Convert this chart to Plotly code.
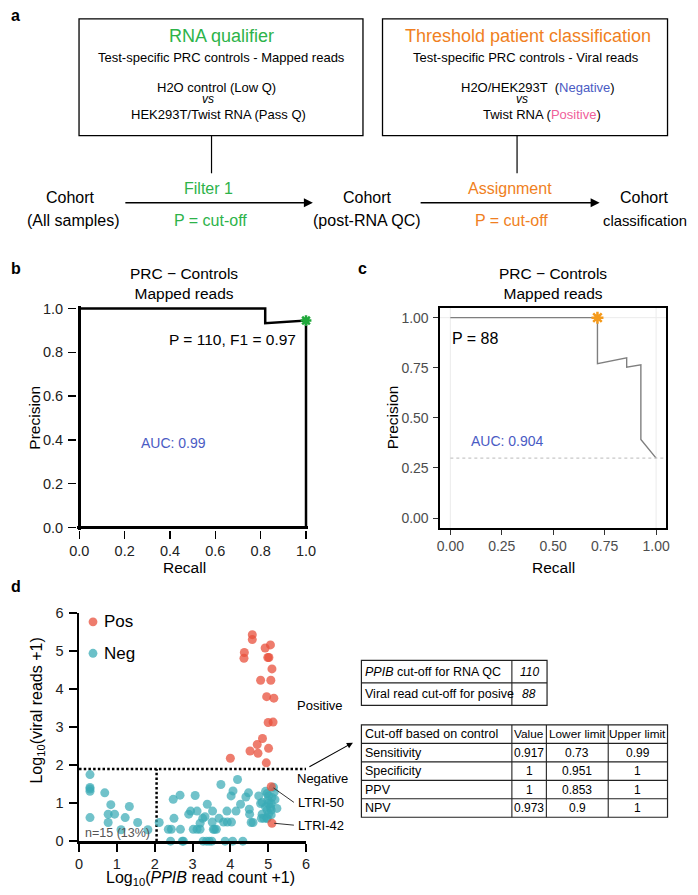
import plotly.graph_objects as go

W, H = 698, 895
FONT = "Liberation Sans, Arial, sans-serif"

# ---------------- data ----------------
# panel b : PRC for RNA qualifier (mapped reads)
b_recall = [0.0, 0.82, 0.82, 1.0, 1.0]
b_precision = [1.0, 1.0, 0.933, 0.945, 0.0]
b_opt_recall = [1.0]
b_opt_precision = [0.945]
b_cutoff = 110
b_f1 = 0.97
b_auc = 0.99

# panel c : PRC for threshold classification
c_recall = [0.0, 0.715, 0.715, 0.857, 0.857, 0.926, 0.926, 1.0]
c_precision = [1.0, 1.0, 0.77, 0.80, 0.753, 0.765, 0.392, 0.299]
c_opt_recall = [0.715]
c_opt_precision = [1.0]
c_baseline = 0.299
c_cutoff = 88
c_auc = 0.904

# panel d : scatter
pos_x = [4.58, 4.58, 4.37, 4.36, 4.92, 5.06, 5.02, 4.99, 5.10, 4.80, 5.07, 4.96,
         5.15, 5.00, 5.13, 4.85, 4.71, 4.52, 4.73, 5.01, 4.00, 4.95, 5.08, 5.10]
pos_y = [5.43, 5.30, 4.96, 4.81, 5.08, 5.16, 4.83, 4.83, 4.53, 4.23, 4.23, 3.80,
         3.76, 3.12, 3.13, 2.70, 2.54, 2.37, 2.31, 2.44, 2.18, 2.06, 1.43, 0.47]
neg_x = [0.29, 0.29, 0.29, 0.29, 0.29, 0.68, 0.84, 0.77, 0.94, 0.77, 1.33, 1.22, 1.11, 1.55, 1.82,
         2.42, 2.73, 2.76, 3.28, 3.37, 3.44, 3.51, 3.86, 4.06, 4.33,
         2.36, 2.44, 2.68, 3.02, 3.12, 3.20, 3.55, 3.63, 3.58,
         2.12, 3.20, 3.52, 3.82, 3.92, 4.03, 4.55, 4.60,
         2.51, 3.27, 3.70, 4.88, 4.97, 3.33,
         2.90, 2.95, 3.12, 3.53, 3.91, 4.15, 4.51, 4.50,
         3.39, 4.27,
         2.49, 2.67, 3.07, 4.02, 4.07, 4.41, 4.48,
         3.75, 4.19,
         4.75, 4.80, 4.84, 4.93, 4.97, 5.01, 5.14, 5.16, 5.10, 5.08, 5.01, 4.97, 5.08,
         5.06, 4.84, 5.01, 5.23, 4.99, 4.93, 4.82, 4.97, 5.08, 5.18]
neg_y = [1.75, 1.41, 1.37, 1.31, 0.62, 1.27, 0.96, 0.71, 0.71, 0.49, 0.91, 0.62, 0.30, 0.49, 0.30,
         0.0, 0.0, 0.0, 0.0, 0.0, 0.0, 0.0, 0.0, 0.0, 0.0,
         0.31, 0.31, 0.31, 0.31, 0.31, 0.31, 0.31, 0.31, 0.31,
         0.49, 0.47, 0.50, 0.50, 0.50, 0.50, 0.49, 0.49,
         0.60, 0.60, 0.60, 0.60, 0.60, 0.64,
         0.71, 0.79, 0.79, 0.79, 0.79, 0.79, 0.71, 0.84,
         0.97, 0.97,
         1.10, 1.21, 1.20, 1.19, 1.32, 1.16, 1.27,
         1.49, 1.62,
         1.19, 0.99, 1.02, 1.31, 1.25, 1.19, 1.42, 1.29, 1.15, 0.99, 0.99, 0.82, 0.82,
         0.89, 0.71, 0.71, 0.86, 1.08, 0.90, 0.60, 0.60, 0.69, 1.09]
ppib_cut = 2.05
viral_cut = 1.90
group_names = ["Pos", "Neg"]
group_colors = ["#E8503C", "#3AABB5"]
ltri_labels = ["LTRI-50", "LTRI-42"]
n_below = "n=15 (13%)"

# tables
t1_labels = ["<i>PPIB</i> cut-off for RNA QC", "Viral read cut-off for posive"]
t1_values = ["110", "88"]
t2_header = ["Cut-off based on control", "Value", "Lower limit", "Upper limit"]
t2_metrics = ["Sensitivity", "Specificity", "PPV", "NPV"]
t2_value = ["0.917", "1", "1", "0.973"]
t2_lower = ["0.73", "0.951", "0.853", "0.9"]
t2_upper = ["0.99", "1", "1", "1"]

GREEN = "#2DB34A"
ORANGE = "#F07F22"
BLUE = "#4A5BC4"
PINK = "#F0609A"


# ---------------- helpers ----------------
def fx(p):
    return p / W


def fy(p):
    return 1 - p / H


def xdom(p0, p1, v0, v1, r0, r1):
    s = (p1 - p0) / (v1 - v0)
    return [fx(p0 + (r0 - v0) * s), fx(p0 + (r1 - v0) * s)]


def ydom(p0, p1, v0, v1, r0, r1):
    s = (p1 - p0) / (v1 - v0)
    return [fy(p0 + (r0 - v0) * s), fy(p0 + (r1 - v0) * s)]


annotations = []
shapes = []


def text(t, x, y, size, color="black", xanchor="center", yanchor="middle", **kw):
    annotations.append(dict(text=t, x=fx(x), y=fy(y), xref="paper", yref="paper",
                            showarrow=False, xanchor=xanchor, yanchor=yanchor, borderpad=0,
                            font=dict(family=FONT, size=size, color=color), **kw))


def line(x0, y0, x1, y1, width=1.2, color="black", dash=None):
    d = dict(type="line", xref="paper", yref="paper", x0=fx(x0), y0=fy(y0), x1=fx(x1), y1=fy(y1),
             line=dict(color=color, width=width))
    if dash:
        d["line"]["dash"] = dash
    shapes.append(d)


def rect(x0, y0, x1, y1, width=1.3, color="black"):
    shapes.append(dict(type="rect", xref="paper", yref="paper", x0=fx(x0), y0=fy(y1), x1=fx(x1), y1=fy(y0),
                       line=dict(color=color, width=width)))


def arrow(x0, y0, x1, y1, width=1.5, size=1.2):
    annotations.append(dict(text="", x=fx(x1), y=fy(y1), ax=x0 - x1, ay=y0 - y1, xref="paper", yref="paper",
                            axref="pixel", ayref="pixel", showarrow=True, arrowhead=2,
                            arrowsize=size, arrowwidth=width, arrowcolor="black"))


fig = go.Figure()

# ---------------- panel b ----------------
fig.add_trace(go.Scatter(x=b_recall, y=b_precision, mode="lines", xaxis="x", yaxis="y",
                         line=dict(color="black", width=2.5), showlegend=False, hoverinfo="skip"))
fig.add_trace(go.Scatter(x=b_opt_recall, y=b_opt_precision, mode="markers", xaxis="x", yaxis="y",
                         marker=dict(symbol="asterisk-open", size=9, color="#1FA83A",
                                     line=dict(color="#1FA83A", width=2.5)),
                         cliponaxis=False, showlegend=False, hoverinfo="skip"))

# ---------------- panel c ----------------
shapes.append(dict(type="line", xref="x2", yref="y2 domain", x0=0, x1=0, y0=0, y1=1,
                   line=dict(color="#EBEBEB", width=1), layer="below"))
shapes.append(dict(type="line", xref="x2", yref="y2 domain", x0=1, x1=1, y0=0, y1=1,
                   line=dict(color="#EBEBEB", width=1), layer="below"))
shapes.append(dict(type="line", xref="x2 domain", yref="y2", x0=0, x1=1, y0=1, y1=1,
                   line=dict(color="#EBEBEB", width=1), layer="below"))
shapes.append(dict(type="line", xref="x2", yref="y2", x0=0, x1=1.05, y0=c_baseline, y1=c_baseline,
                   line=dict(color="#C8C8C8", width=1.3, dash="dot")))
fig.add_trace(go.Scatter(x=c_recall, y=c_precision, mode="lines", xaxis="x2", yaxis="y2",
                         line=dict(color="#7F7F7F", width=1.4), showlegend=False, hoverinfo="skip"))
fig.add_trace(go.Scatter(x=c_opt_recall, y=c_opt_precision, mode="markers", xaxis="x2", yaxis="y2",
                         marker=dict(symbol="asterisk-open", size=10, color="#F59A1B",
                                     line=dict(color="#F59A1B", width=2.5)),
                         cliponaxis=False, showlegend=False, hoverinfo="skip"))

# ---------------- panel d ----------------
fig.add_trace(go.Scatter(x=[0, 6], y=[viral_cut, viral_cut], mode="lines", xaxis="x3", yaxis="y3",
                         line=dict(color="black", width=2.5, dash="2.5px,2.2px"),
                         showlegend=False, hoverinfo="skip"))
fig.add_trace(go.Scatter(x=[ppib_cut, ppib_cut], y=[0, viral_cut], mode="lines", xaxis="x3", yaxis="y3",
                         line=dict(color="black", width=2.5, dash="2.5px,2.2px"),
                         showlegend=False, hoverinfo="skip"))
fig.add_trace(go.Scatter(x=neg_x, y=neg_y, mode="markers", xaxis="x3", yaxis="y3", name=group_names[1],
                         marker=dict(size=9, color=group_colors[1], opacity=0.72),
                         cliponaxis=False, showlegend=False))
fig.add_trace(go.Scatter(x=pos_x, y=pos_y, mode="markers", xaxis="x3", yaxis="y3", name=group_names[0],
                         marker=dict(size=9, color=group_colors[0], opacity=0.75),
                         cliponaxis=False, showlegend=False))

# LTRI labels (connect the last two positive points to labels)
for lab, px_, py_, ly in zip(ltri_labels, pos_x[-2:], pos_y[-2:], [1.02, 0.42]):
    shapes.append(dict(type="line", xref="x3", yref="y3", x0=px_ + 0.06, y0=py_ - 0.03 * (py_ > 1),
                       x1=5.68, y1=ly, line=dict(color="#333", width=1)))
    annotations.append(dict(text=lab, x=5.73, y=ly, xref="x3", yref="y3", showarrow=False,
                            xanchor="left", yanchor="middle", font=dict(family=FONT, size=13, color="black")))
annotations.append(dict(text="Positive", x=5.72, y=3.56, xref="x3", yref="y3", showarrow=False,
                        xanchor="left", yanchor="middle", font=dict(family=FONT, size=13, color="black")))
annotations.append(dict(text="Negative", x=5.72, y=1.66, xref="x3", yref="y3", showarrow=False,
                        xanchor="left", yanchor="middle", font=dict(family=FONT, size=13, color="black")))
text(n_below, 112, 840, 12.5, color="#555555")

# manual legend
for i, (nm, col) in enumerate(zip(group_names, group_colors)):
    cy = 625 + 32 * i
    shapes.append(dict(type="circle", xref="paper", yref="paper", x0=fx(82.5), x1=fx(91.5),
                       y0=fy(cy + 4.5), y1=fy(cy - 4.5), fillcolor=col, opacity=0.75,
                       line=dict(width=0)))
    text(nm, 97, cy, 17, xanchor="left")

# arrow from threshold line to table
arrow(308, 773, 353, 748, width=1.1, size=1.1)

# ---------------- panel a ----------------
rect(72.7, 11, 363.3, 130)
rect(383.3, 11, 675, 130)
line(208.3, 130, 208.3, 168.3)
line(521, 130, 521, 168.3)
text("RNA qualifier", 218, 29, 18, GREEN)
text("Test-specific PRC controls - Mapped reads", 218, 50.7, 13)
text("H2O control (Low Q)", 213, 80.7, 13)
text("<i>vs</i>", 205, 93, 12)
text("HEK293T/Twist RNA (Pass Q)", 215.5, 108.3, 13)
text("Threshold patient classification", 531.7, 29, 18, ORANGE)
text("Test-specific PRC controls - Viral reads", 530, 50.7, 13)
text(f"H2O/HEK293T  (<span style='color:{BLUE}'>Negative</span>)", 542.8, 80.7, 13)
text("<i>vs</i>", 525.8, 93, 12)
text(f"Twist RNA (<span style='color:{PINK}'>Positive</span>)", 546.7, 108.3, 13)

text("Cohort", 63.7, 192.7, 16)
text("(All samples)", 66.7, 216.7, 16)
arrow(123, 198.3, 312, 198.3)
text("Filter 1", 205.7, 183.3, 16, GREEN)
text("P = cut-off", 207.5, 216.7, 16, GREEN)
text("Cohort", 368.3, 192.7, 16)
text("(post-RNA QC)", 367.5, 216.7, 16)
arrow(425, 198.3, 605.5, 198.3)
text("Assignment", 513.3, 183.3, 16, ORANGE)
text("P = cut-off", 515.8, 216.7, 16, ORANGE)
text("Cohort", 651.5, 192.7, 16)
text("classification", 651.5, 216.7, 14.8)

# panel letters
text("<b>a</b>", 2, 8, 16, xanchor="left")
text("<b>b</b>", 2, 265, 16, xanchor="left")
text("<b>c</b>", 357, 265, 16, xanchor="left")
text("<b>d</b>", 2, 589, 16, xanchor="left")

# panel b/c titles, texts, axis titles
text("PRC − Controls<br>Mapped reads", 180, 280.5, 15.5)
text("PRC − Controls<br>Mapped reads", 557.3, 280.5, 15.5)
text(f"P = {b_cutoff}, F1 = {b_f1}", 229.5, 338, 15.5)
text(f"AUC: {b_auc}", 169.5, 443, 14, BLUE)
text(f"P = {c_cutoff}", 453, 337, 16, xanchor="left")
text(f"AUC: {c_auc}", 473, 441, 14, BLUE, xanchor="left")
text("Precision", 26.7, 417, 15.5, textangle=-90)
text("Recall", 181, 570, 15.5)
text("Precision", 393.8, 417, 15.5, textangle=-90)
text("Recall", 558, 570, 15.5)
text("Log<sub>10</sub>(viral reads +1)", 30, 715, 16, textangle=-90)
text("Log<sub>10</sub>(<i>PPIB</i> read count +1)", 196.7, 886, 16)

# ---------------- tables ----------------
t1_cols = [361.7, 515.7, 551.7]
t1_rows = [664.3, 687.2, 710]
rect(t1_cols[0], t1_rows[0], t1_cols[-1], t1_rows[-1], width=1.2, color="#222")
line(t1_cols[1], t1_rows[0], t1_cols[1], t1_rows[-1], width=1.1, color="#222")
line(t1_cols[0], t1_rows[1], t1_cols[-1], t1_rows[1], width=1.1, color="#222")
for i, (lab, val) in enumerate(zip(t1_labels, t1_values)):
    cy = (t1_rows[i] + t1_rows[i + 1]) / 2
    text(lab, t1_cols[0] + 2.5, cy, 12.5, xanchor="left")
    text(f"<i>{val}</i>", (t1_cols[1] + t1_cols[2]) / 2, cy, 12)

t2_cols = [361.7, 515.7, 551, 614.3, 675]
t2_top, t2_bot = 730, 824
nrows = len(t2_metrics) + 1
rh = (t2_bot - t2_top) / nrows
t2_rows = [t2_top + i * rh for i in range(nrows + 1)]
rect(t2_cols[0], t2_top, t2_cols[-1], t2_bot, width=1.2, color="#222")
for c in t2_cols[1:-1]:
    line(c, t2_top, c, t2_bot, width=1.1, color="#222")
for r in t2_rows[1:-1]:
    line(t2_cols[0], r, t2_cols[-1], r, width=1.1, color="#222")
table_rows = [t2_header] + [list(r) for r in zip(t2_metrics, t2_value, t2_lower, t2_upper)]
for i, row in enumerate(table_rows):
    cy = (t2_rows[i] + t2_rows[i + 1]) / 2
    for j, cell in enumerate(row):
        if j == 0:
            text(cell, t2_cols[0] + 2.5, cy, 12.5, xanchor="left")
        else:
            text(cell, (t2_cols[j] + t2_cols[j + 1]) / 2, cy, 12 if i else 11.8)

# ---------------- axes ----------------
tick_b = [0, 0.2, 0.4, 0.6, 0.8, 1.0]
tick_c = [0, 0.25, 0.5, 0.75, 1.0]
tick_d = [0, 1, 2, 3, 4, 5, 6]

common_b = dict(range=[-0.01, 1.01], tickvals=tick_b, ticktext=[f"{v:.1f}" for v in tick_b],
                ticks="outside", ticklen=8, tickwidth=1.3, tickcolor="black", showgrid=False,
                zeroline=True, zerolinecolor="black", zerolinewidth=2.5, showline=False,
                tickfont=dict(family=FONT, size=14.5, color="#222"), fixedrange=True)
common_c = dict(range=[-0.05, 1.05], tickvals=tick_c, ticktext=[f"{v:.2f}" for v in tick_c],
                ticks="outside", ticklen=5, tickwidth=1, tickcolor="#333", showgrid=False,
                zeroline=False, showline=True, mirror=True, linecolor="black", linewidth=1.6,
                tickfont=dict(family=FONT, size=14, color="#4D4D4D"), fixedrange=True)
common_d = dict(range=[0, 6], tickvals=tick_d, ticktext=[str(v) for v in tick_d],
                ticks="outside", ticklen=8, tickwidth=2, tickcolor="black", showgrid=False,
                zeroline=False, showline=True, linecolor="black", linewidth=2.5,
                tickfont=dict(family=FONT, size=14.5, color="#222"), fixedrange=True)

fig.update_layout(
    width=W, height=H, margin=dict(l=0, r=0, t=0, b=0),
    paper_bgcolor="white", plot_bgcolor="white",
    font=dict(family=FONT, color="black"),
    showlegend=False,
    xaxis=dict(domain=xdom(73, 305, 0, 1, -0.01, 1.01), anchor="y", **common_b),
    yaxis=dict(domain=ydom(529, 306, 0, 1, -0.01, 1.01), anchor="x", **common_b),
    xaxis2=dict(domain=xdom(452.7, 663.3, 0, 1, -0.05, 1.05), anchor="y2", **common_c),
    yaxis2=dict(domain=ydom(519.3, 315.3, 0, 1, -0.05, 1.05), anchor="x2", **common_c),
    xaxis3=dict(domain=xdom(72.7, 305, 0, 6, 0, 6), anchor="y3", **common_d),
    yaxis3=dict(domain=ydom(848.3, 616, 0, 6, 0, 6), anchor="x3", **common_d),
    annotations=annotations,
    shapes=shapes,
)
fig.update_yaxes(ticklabelstandoff=2)

fig.write_html("out.html",
               config={"displayModeBar": False, "staticPlot": True},
               post_script="document.body.style.margin='0';document.body.style.overflow='hidden';")
